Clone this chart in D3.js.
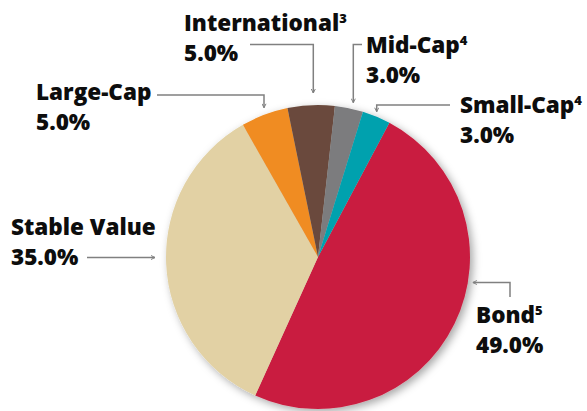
<!DOCTYPE html>
<html>
<head>
<meta charset="utf-8">
<script src="https://cdn.jsdelivr.net/npm/d3@7"></script>
<style>
  html, body { margin: 0; padding: 0; background: #fff; }
  svg { display: block; }
  text { font-family: "Open Sans", "Noto Sans", sans-serif; font-weight: 800; fill: #0d0d0d; }
</style>
</head>
<body>
<svg id="chart" width="587" height="411"></svg>
<script>
// ---- data ----
const categories = ["Bond", "Stable Value", "Large-Cap", "International", "Mid-Cap", "Small-Cap"];
const values = [49.0, 35.0, 5.0, 5.0, 3.0, 3.0];
const superscripts = ["5", "", "", "3", "4", "4"];
const colors = ["#C91F40", "#E2D1A4", "#F08C24", "#6A4A3C", "#7B7B7E", "#00A1AE"];

// ---- layout ----
const W = 587, H = 411;
const cx = 318, cy = 257, R = 152;
const startDeg = 28;

const labelLayout = {
  "Bond":          { x: 476, y: 323, line: [[510, 297], [510, 282.5]], tipDeg: 99.4, tipR: 157, dir: "h" },
  "Stable Value":  { x: 11,  y: 235, line: [[87, 257.5]], tipDeg: 270, tipR: 163, dir: "h" },
  "Large-Cap":     { x: 36,  y: 100, line: [[157, 95], [264, 95]], tipDeg: 339.8, tipR: 159, dir: "v" },
  "International": { x: 184, y: 31,  line: [[250, 44.5], [313.3, 44.5]], tipDeg: 359.3, tipR: 164, dir: "v" },
  "Mid-Cap":       { x: 366, y: 53,  line: [[362, 44.5], [353.3, 44.5]], tipDeg: 12.4, tipR: 158, dir: "v" },
  "Small-Cap":     { x: 460, y: 113, line: [[450, 105], [376.7, 105]], tipDeg: 22.3, tipR: 157, dir: "v" }
};

const svg = d3.select("#chart");

const defs = svg.append("defs");
const filt = defs.append("filter").attr("id", "shadow")
  .attr("x", "-20%").attr("y", "-20%").attr("width", "140%").attr("height", "140%");
filt.append("feDropShadow").attr("dx", 3).attr("dy", 3).attr("stdDeviation", 4)
  .attr("flood-color", "#000").attr("flood-opacity", 0.35);

defs.append("marker").attr("id", "arrow")
  .attr("viewBox", "0 0 10 10").attr("refX", 9).attr("refY", 5)
  .attr("markerWidth", 5).attr("markerHeight", 5).attr("orient", "auto")
  .attr("markerUnits", "userSpaceOnUse")
  .append("path").attr("d", "M1,1 L9,5 L1,9")
  .attr("fill", "none").attr("stroke", "#808080").attr("stroke-width", 2);

const data = categories.map((c, i) => ({ name: c, value: values[i], color: colors[i], sup: superscripts[i] }));

const toRad = d => d * Math.PI / 180;
const pie = d3.pie().sort(null).value(d => d.value)
  .startAngle(toRad(startDeg)).endAngle(toRad(startDeg) + 2 * Math.PI);
const arc = d3.arc().innerRadius(0).outerRadius(R);

const g = svg.append("g").attr("transform", `translate(${cx},${cy})`);
g.append("g").attr("filter", "url(#shadow)")
  .selectAll("path").data(pie(data)).join("path")
  .attr("d", arc).attr("fill", d => d.data.color);

// leaders
const line = d3.line();
data.forEach(d => {
  const L = labelLayout[d.name];
  const a = toRad(L.tipDeg);
  const tip = [cx + L.tipR * Math.sin(a), cy - L.tipR * Math.cos(a)];
  const last = L.line[L.line.length - 1];
  let pts = L.line.slice();
  if (L.dir === "v") pts.push([last[0], tip[1]]);
  else pts.push([tip[0], last[1]]);
  svg.append("path").attr("d", line(pts))
    .attr("fill", "none").attr("stroke", "#808080").attr("stroke-width", 1.5)
    .attr("marker-end", "url(#arrow)");
});

// labels
const fmt = d3.format(".1f");
const FS = 22.5;
data.forEach(d => {
  const L = labelLayout[d.name];
  const t = svg.append("text").attr("x", L.x).attr("y", L.y).attr("font-size", FS);
  t.append("tspan").text(d.name);
  if (d.sup) t.append("tspan").attr("font-size", 13).attr("dy", -8).text(d.sup);
  svg.append("text").attr("x", L.x).attr("y", L.y + 29.5).attr("font-size", FS)
    .text(fmt(d.value) + "%");
});
</script>
</body>
</html>
